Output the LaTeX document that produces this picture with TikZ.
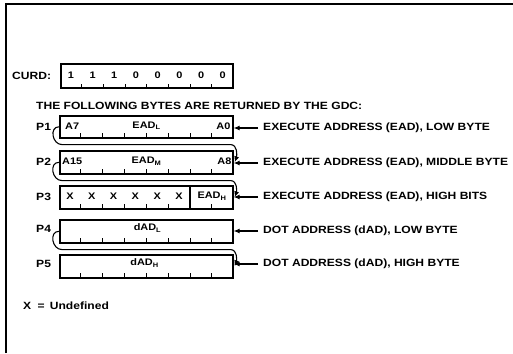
\documentclass[tikz,border=0pt]{standalone}
\usepackage{fontspec}
\setmainfont{Liberation Sans}[FakeStretch=1.15]
\usetikzlibrary{calc,arrows.meta}
\newcommand{\sbs}[1]{\raisebox{-1.8pt}{\fontsize{6.5}{6.5}\selectfont #1}}
\begin{document}
\begin{tikzpicture}[x=1pt,y=-1pt,
  font=\bfseries\fontsize{10.5}{12}\selectfont,
  reg/.style={draw, line width=1.6pt, minimum width=173pt, minimum height=22pt, inner sep=0pt, anchor=north west},
  lbl/.style={anchor=west, inner sep=0pt},
  ins/.style={inner sep=0pt, font=\bfseries\fontsize{9.5}{11}\selectfont},
  arr/.style={line width=1.1pt, -{Latex[length=6pt,width=5pt]}},
  conn/.style={line width=1.1pt, -{Latex[length=6pt,width=5pt]}},
  tck/.style={line width=0.9pt}]
\useasboundingbox (0,0) rectangle (513,353);
\draw[line width=1.5pt] (6,353) -- (6,4) -- (513,4);

% CURD
\node[lbl] (curdlbl) at (12,76) {CURD:};
\node[reg, minimum width=172pt, minimum height=24pt] (curd) at (60,63) {};
\foreach \d [count=\i] in {1,1,1,0,0,0,0,0}
  \node[ins] at ($(curd.west)!{(\i-0.5)/8}!(curd.east)+(0pt,1pt)$) {\d};
\foreach \k in {1,...,7}
  \draw[tck] ($(curd.south west)!\k/8!(curd.south east)$) -- +(0pt,5pt);

\node[lbl] (hdr) at (36,106) {THE FOLLOWING BYTES ARE RETURNED BY THE GDC:};

% registers
\node[reg] (p1) at (59,115) {};
\node[reg, minimum height=23pt] (p2) at (59,150) {};
\node[reg, minimum height=23pt] (p3) at (59,185) {};
\node[reg, minimum height=23pt] (p4) at (59,219) {};
\node[reg, minimum height=23pt] (p5) at (59,254) {};
\foreach \p in {p1,p2,p3,p4,p5}
  \foreach \k in {1,...,7}
    \draw[tck] ($(\p.south west)!\k/8!(\p.south east)$) -- +(0pt,6pt);
\draw[line width=1.2pt] ($(p3.north west)!6/8!(p3.north east)$) -- ($(p3.south west)!6/8!(p3.south east)$);

% P labels
\node[lbl] (l1) at (36,127) {P1};
\node[lbl] (l2) at (36,162) {P2};
\node[lbl] (l3) at (36,197) {P3};
\node[lbl] (l4) at (36,229) {P4};
\node[lbl] (l5) at (36,264) {P5};

% contents
\node[ins, anchor=west] (a7) at ($(p1.west)+(6pt,1pt)$) {A7};
\node[ins] (eadl) at ($(p1.center)+(0pt,1pt)$) {EAD\sbs{L}};
\node[ins, anchor=east] (a0) at ($(p1.east)+(-3pt,1pt)$) {A0};
\node[ins, anchor=west] (a15) at ($(p2.west)+(3pt,1pt)$) {A15};
\node[ins] (eadm) at ($(p2.center)+(0pt,1pt)$) {EAD\sbs{M}};
\node[ins, anchor=east] (a8) at ($(p2.east)+(-2pt,1pt)$) {A8};
\foreach \i in {1,...,6}
  \node[ins] at ($(p3.west)!{(\i-0.5)/8}!(p3.east)+(0pt,1pt)$) {X};
\node[ins] (eadh) at ($(p3.west)!{7/8}!(p3.east)+(0pt,1pt)$) {EAD\sbs{H}};
\node[ins] (dadl) at ($(p4.center)+(1pt,3pt)$) {dAD\sbs{L}};
\node[ins] (dadh) at ($(p5.center)+(-2pt,3pt)$) {dAD\sbs{H}};

% descriptions
\node[lbl] (t1) at (263,128) {EXECUTE ADDRESS (EAD), LOW BYTE};
\node[lbl] (t2) at (263,163) {EXECUTE ADDRESS (EAD), MIDDLE BYTE};
\node[lbl] (t3) at (263,197) {EXECUTE ADDRESS (EAD), HIGH BITS};
\node[lbl] (t4) at (263,231) {DOT ADDRESS (dAD), LOW BYTE};
\node[lbl] (t5) at (263,264) {DOT ADDRESS (dAD), HIGH BYTE};

\foreach \i in {1,...,5}
  \draw[arr, shorten <=5pt] (t\i.west) -- (t\i.west -| p\i.east);

% chaining connectors
\draw[conn] (p1.west) to[out=180,in=180,looseness=1.4] ($(p1.south west)+(3pt,-6pt)$)
  -- ($(p1.south east)+(-3pt,-6pt)$) to[out=0,in=70] ($(p2.east)+(1pt,0pt)$);
\draw[conn] (p2.west) to[out=180,in=180,looseness=1.4] ($(p2.south west)+(3pt,-6pt)$)
  -- ($(p2.south east)+(-3pt,-6pt)$) to[out=0,in=70] ($(p3.east)+(1pt,0pt)$);
\draw[conn] (p4.west) to[out=180,in=180,looseness=1.4] ($(p4.south west)+(3pt,-6pt)$)
  -- ($(p4.south east)+(-3pt,-6pt)$) to[out=0,in=70] ($(p5.east)+(1pt,0pt)$);

\node[lbl] (undef) at (23,306) {X\hspace{0.6em}=\hspace{0.5em}Undefined};
\end{tikzpicture}
\end{document}
